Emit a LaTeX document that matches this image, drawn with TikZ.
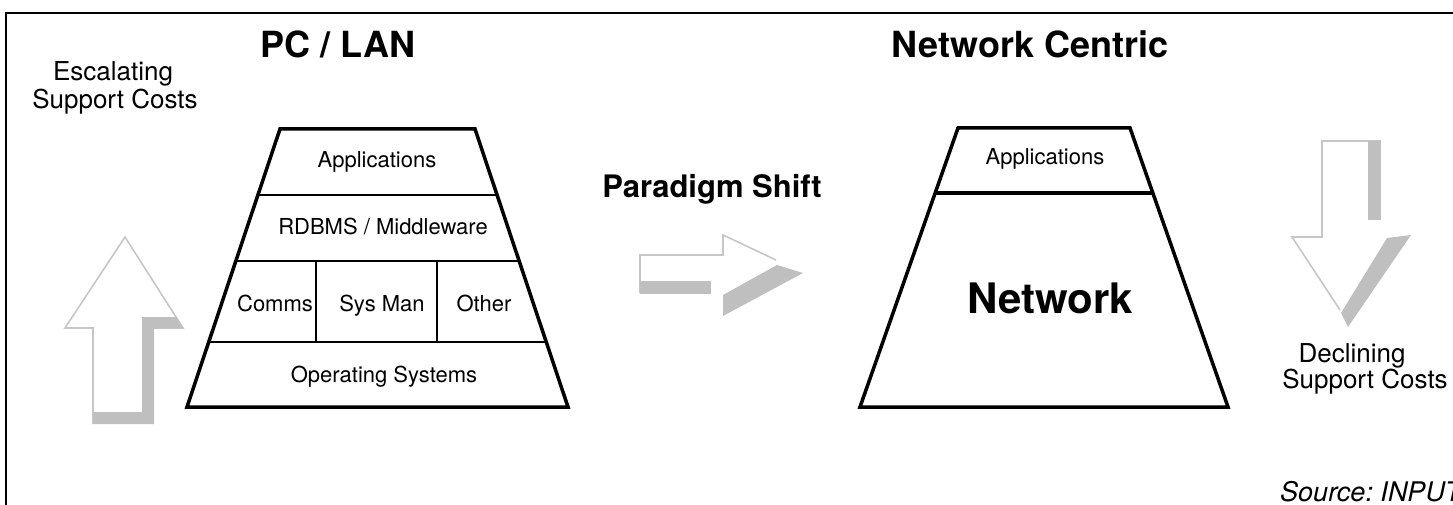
\documentclass[tikz,border=0pt]{standalone}
\usepackage{fontspec}
\setmainfont{TeX Gyre Heros}
\usetikzlibrary{calc}
\begin{document}
\begin{tikzpicture}[x=1pt,y=-1pt,
  lbl/.style={inner sep=0pt,anchor=base,font=\fontsize{22}{26}\selectfont},
  side/.style={inner sep=0pt,anchor=base,font=\fontsize{26}{30}\selectfont},
  ttl/.style={inner sep=0pt,anchor=base,font=\fontsize{36}{40}\selectfont\bfseries},
  outer/.style={line width=3.5pt,line join=miter},
  inner/.style={line width=1.8pt},
  thin/.style={draw=gray!45,line width=1.6pt,line join=miter},
  band/.style={fill=gray!50,draw=none}]
\useasboundingbox (0,0) rectangle (1453,505);
\clip (0,0) rectangle (1453,505);
% frame
\draw[line width=1.5pt] (6,13) rectangle (1520,560);

% ---- left trapezoid (PC / LAN)
\coordinate (lTL) at (280,129);
\coordinate (lTR) at (475,129);
\coordinate (lBL) at (187,407);
\coordinate (lBR) at (568,407);
\coordinate (l1a) at ($(lTL)!0.2374!(lBL)$);
\coordinate (l1b) at ($(lTR)!0.2374!(lBR)$);
\coordinate (l2a) at ($(lTL)!0.4748!(lBL)$);
\coordinate (l2b) at ($(lTR)!0.4748!(lBR)$);
\coordinate (l3a) at ($(lTL)!0.7662!(lBL)$);
\coordinate (l3b) at ($(lTR)!0.7662!(lBR)$);
\coordinate (v1t) at (316,261);
\coordinate (v1b) at (316,342);
\coordinate (v2t) at (437,261);
\coordinate (v2b) at (437,342);
\draw[inner] (l1a) -- (l1b) (l2a) -- (l2b) (l3a) -- (l3b) (v1t) -- (v1b) (v2t) -- (v2b);
\draw[outer] (lTL) -- (lTR) -- (lBR) -- (lBL) -- cycle;
\node[lbl] (apps1) at (377,168) {Applications};
\node[lbl] (rdbms) at (383,234) {RDBMS / Middleware};
\node[lbl] (comms) at (275,311) {Comms};
\node[lbl] (sysman) at (382,311) {Sys Man};
\node[lbl] (other) at (484,311) {Other};
\node[lbl] (os) at (384,382) {Operating Systems};

% ---- right trapezoid (Network Centric)
\coordinate (rTL) at (958,128);
\coordinate (rTR) at (1130,128);
\coordinate (rBL) at (860,407);
\coordinate (rBR) at (1228,407);
\coordinate (r1a) at ($(rTL)!0.233!(rBL)$);
\coordinate (r1b) at ($(rTR)!0.233!(rBR)$);
\draw[line width=3.5pt] (r1a) -- (r1b);
\draw[outer] (rTL) -- (rTR) -- (rBR) -- (rBL) -- cycle;
\node[lbl] (apps2) at (1045,165) {Applications};
\node[inner sep=0pt,anchor=base,font=\fontsize{42}{46}\selectfont\bfseries] (net) at (1050,313) {Network};

% ---- titles
\node[ttl] (pclan) at (338,58) {PC / LAN};
\node[ttl] (nc) at (1030,58) {Network Centric};
\node[inner sep=0pt,anchor=base,font=\fontsize{31}{35}\selectfont\bfseries] (ps) at (712,198) {Paradigm Shift};

% ---- side texts
\node[side] (esc1) at (113,81) {Escalating};
\node[side] (esc2) at (115,109) {Support Costs};
\node[side] (dec1) at (1352,362) {Declining};
\node[side] (dec2) at (1365,388) {Support Costs};
\node[inner sep=0pt,anchor=base west,font=\fontsize{27}{31}\selectfont\itshape\frenchspacing] (src) at (1280,501) {Source: INPUT};

% ---- up arrow (left)
\coordinate (ua1) at (93,423);
\coordinate (ua2) at (93,328);
\coordinate (ua3) at (65,328);
\coordinate (ua4) at (125,237);
\coordinate (ua5) at (183,328);
\coordinate (ua6) at (153,328);
\coordinate (ua7) at (153,423);
\draw[thin] (ua1) -- (ua2) -- (ua3) -- (ua4) -- (ua5) -- (ua6) -- (ua7) -- cycle;
\fill[band] (142,317) -- (176,317) -- (183,328) -- (154,328) -- (154,424) -- (93,424) -- (93,412) -- (142,412) -- cycle;

% ---- right arrow (middle)
\coordinate (ma1) at (640,255);
\coordinate (ma2) at (723,255);
\coordinate (ma3) at (723,235);
\coordinate (ma4) at (802,273);
\coordinate (ma5) at (723,315);
\coordinate (ma6) at (723,293);
\coordinate (ma7) at (640,293);
\draw[thin] (ma7) -- (ma1) -- (ma2) -- (ma3) -- (776,260);
\fill[band] (640,281) rectangle (711,294);
\fill[band] (723,295) -- (777,265) -- (803,273) -- (723,316) -- cycle;

% ---- down arrow (right)
\coordinate (da1) at (1322,237);
\coordinate (da2) at (1322,141);
\coordinate (da3) at (1381,141);
\coordinate (da4) at (1292,237);
\draw[thin] (1340,310) -- (da4) -- (da1) -- (da2) -- (da3);
\fill[band] (1368,141) rectangle (1381,220);
\fill[band] (1387,238) -- (1411,235) -- (1348,327) -- (1341,313) -- cycle;
\end{tikzpicture}
\end{document}
